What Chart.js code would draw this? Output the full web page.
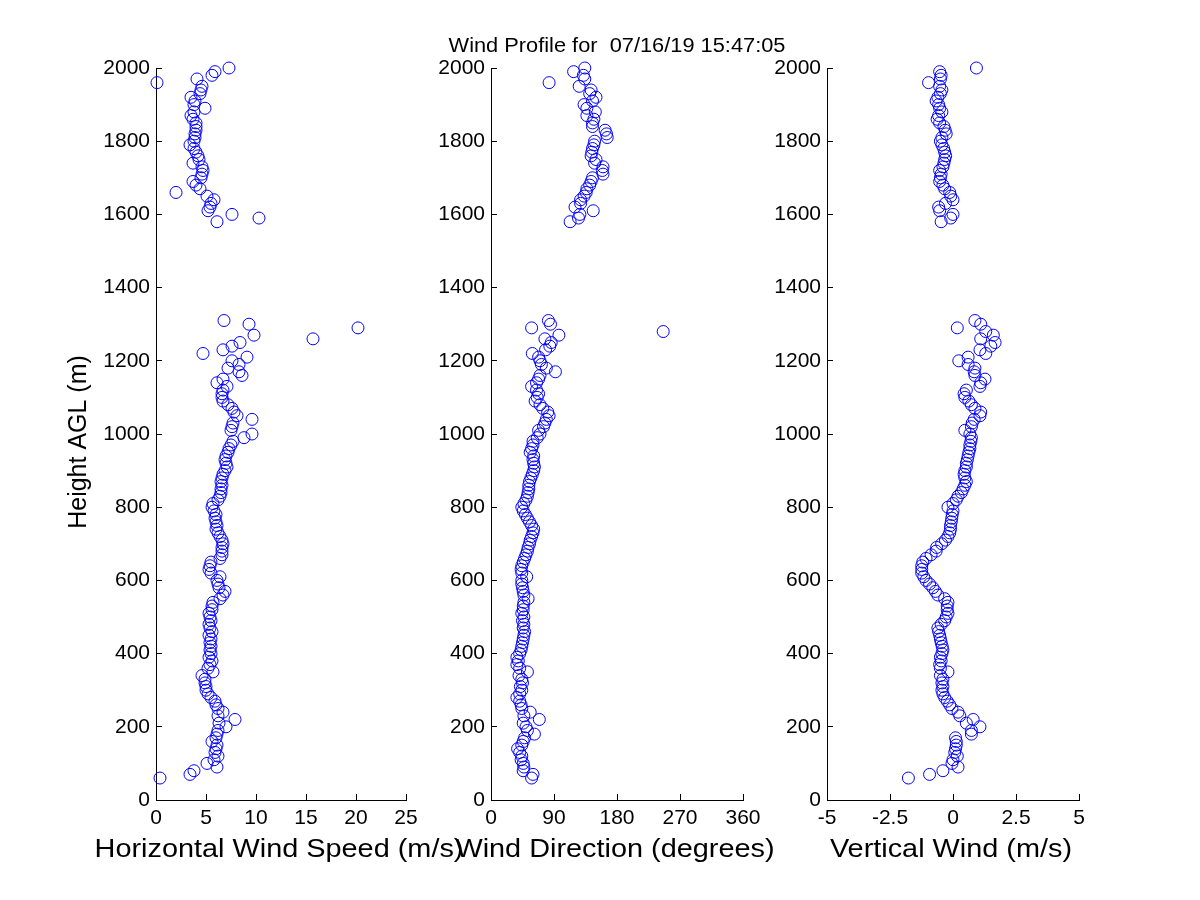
<!DOCTYPE html>
<html>
<head>
<meta charset="utf-8">
<title>Wind Profile</title>
<script src="https://cdn.jsdelivr.net/npm/chart.js@4.4.1/dist/chart.umd.min.js"></script>
<style>
	html, body { margin: 0; padding: 0; background: #fff; }
	#wrap { position: relative; width: 1200px; height: 900px; }
	#wrap canvas { position: absolute; left: 0; top: 0; }
</style>
</head>
<body>
<div id="wrap">
	<canvas id="speedChart" width="1200" height="900"></canvas>
	<canvas id="dirChart" width="1200" height="900"></canvas>
	<canvas id="vertChart" width="1200" height="900"></canvas>
</div>
<script>
// range gates (m AGL), two blocks: low mode and high mode
const heights = [
	60, 70, 80, 90, 100, 110, 120, 130, 140, 150, 160, 170, 180, 190, 200, 210, 220, 230, 240, 250,
	260, 270, 280, 290, 300, 310, 320, 330, 340, 350, 360, 370, 380, 390, 400, 410, 420, 430, 440, 450,
	460, 470, 480, 490, 500, 510, 520, 530, 540, 550, 560, 570, 580, 590, 600, 610, 620, 630, 640, 650,
	660, 670, 680, 690, 700, 710, 720, 730, 740, 750, 760, 770, 780, 790, 800, 810, 820, 830, 840, 850,
	860, 870, 880, 890, 900, 910, 920, 930, 940, 950, 960, 970, 980, 990, 1000, 1010, 1020, 1030, 1040, 1050,
	1060, 1070, 1080, 1090, 1100, 1110, 1120, 1130, 1140, 1150, 1160, 1170, 1180, 1190, 1200, 1210, 1220, 1230, 1240, 1250,
	1260, 1270, 1280, 1290, 1300, 1310,
	1580, 1590, 1600, 1610, 1620, 1630, 1640, 1650, 1660, 1670, 1680, 1690, 1700, 1710, 1720, 1730, 1740, 1750, 1760, 1770,
	1780, 1790, 1800, 1810, 1820, 1830, 1840, 1850, 1860, 1870, 1880, 1890, 1900, 1910, 1920, 1930, 1940, 1950, 1960, 1970,
	1980, 1990, 2000,
];

// horizontal wind speed (m/s), null = no retrieval
const speed = [
	0.4, 3.4, 3.8, 6.1, 5.1, 5.8, 6.2, 5.9, 6.0, 6.1, 5.6, 6.0, 6.1, 6.2, 7.0, 6.3, 7.9, 6.2, 6.7, 6.2,
	6.0, 5.9, 5.5, 5.2, 5.0, 5.0, 4.9, 4.9, 4.6, 5.7, 5.2, 5.4, 5.6, 5.3, 5.5, 5.4, 5.5, 5.4, 5.5, 5.3,
	5.6, 5.4, 5.3, 5.5, 5.4, 5.3, 5.6, 5.6, 5.7, 6.4, 6.7, 6.9, 6.3, 6.2, 6.1, 6.4, 5.5, 5.3, 5.4, 5.5,
	6.4, 6.6, 6.6, 6.6, 6.7, 6.6, 6.4, 6.2, 6.0, 6.1, 6.0, 5.9, 6.0, 5.8, 5.6, 5.7, 6.2, 6.4, 6.5, 6.5,
	6.6, 6.5, 6.6, 6.7, 6.9, 7.1, 7.0, 6.9, 7.0, 7.2, 7.3, 7.5, 7.7, 8.8, 9.6, 7.5, 7.6, 7.7, 9.6, 8.1,
	7.8, 7.6, 7.2, 6.7, 6.6, 6.6, 6.7, 7.1, 6.1, 6.7, 8.6, 8.3, 7.2, 8.3, 7.6, 9.1, 4.7, 6.7, 7.6, 8.4,
	15.7, 9.8, null, 20.2, 9.3, 6.8,
	6.1, 10.3, 7.6, 5.2, 5.4, 5.5, 5.8, 5.1, 2.0, 4.4, 4.0, 3.7, 4.5, 4.6, 4.7, 4.6, 3.7, 4.3, 4.2, 4.0,
	3.8, 3.4, 3.8, 3.9, 3.9, 4.0, 4.0, 4.0, 3.7, 3.5, 3.8, 4.9, 3.8, 3.9, 3.5, 4.4, 4.5, 4.6, 0.1, 4.1,
	5.6, 5.9, 7.3,
];

// wind direction (degrees)
const direction = [
	58, 60, 46, 47, 46, 43, 44, 41, 38, 44, 46, 48, 62, 52, 50, 46, 69, 47, 56, 44,
	43, 41, 37, 41, 44, 42, 45, 44, 40, 52, 41, 37, 39, 37, 41, 43, 44, 45, 46, 47,
	48, 46, 47, 45, 47, 44, 46, 46, 47, 53, 47, 46, 45, 44, 44, 51, 44, 43, 44, 46,
	48, 50, 52, 53, 55, 56, 58, 60, 61, 58, 55, 52, 49, 46, 44, 47, 50, 52, 53, 54,
	54, 55, 57, 59, 61, 62, 61, 60, 61, 56, 58, 60, 60, 66, 70, 68, 75, 77, 79, 83,
	81, 74, 70, 63, 66, 68, 65, 58, 65, 68, 70, 92, 79, 72, 70, 68, 59, 78, 84, 86,
	77, 97, 246, 58, 85, 82,
	113, 125, 127, 146, 120, 128, 128, 133, 136, 137, 141, 143, 145, 160, 159, 160, 148, 150, 143, 144,
	145, 147, 148, 166, 165, 163, 145, 145, 147, 137, 149, 137, 133, 145, 150, 141, 143, 126, 83, 134,
	132, 118, 134,
];

// vertical wind (m/s)
const vertical = [
	-1.77, -0.93, -0.4, 0.2, -0.04, 0.0, 0.17, 0.07, 0.1, 0.13, 0.13, 0.1, 0.73, 0.73, 1.07, 0.53, 0.8, 0.27, 0.2, -0.04,
	-0.13, -0.23, -0.33, -0.4, -0.44, -0.4, -0.44, -0.4, -0.5, -0.2, -0.5, -0.53, -0.47, -0.5, -0.44, -0.4, -0.43, -0.47, -0.5, -0.53,
	-0.57, -0.6, -0.47, -0.33, -0.27, -0.2, -0.23, -0.23, -0.2, -0.33, -0.6, -0.7, -0.8, -0.93, -1.07, -1.16, -1.24, -1.24, -1.24, -1.2,
	-1.07, -0.87, -0.67, -0.65, -0.45, -0.3, -0.2, -0.13, -0.1, -0.1, -0.07, -0.05, -0.03, 0.0, -0.2, 0.0, 0.13, 0.2, 0.33, 0.4,
	0.47, 0.53, 0.47, 0.44, 0.47, 0.53, 0.53, 0.57, 0.6, 0.63, 0.67, 0.67, 0.71, 0.73, 0.67, 0.47, 0.73, 0.76, 0.84, 1.07,
	1.1, 0.87, 0.73, 0.63, 0.47, 0.44, 0.53, 1.07, 1.1, 1.27, 0.87, 0.84, 0.87, 0.6, 0.23, 0.6, 1.3, 1.07, 1.5, 1.67,
	1.1, 1.6, 1.3, 0.17, 1.1, 0.87,
	-0.47, -0.09, 0.0, -0.53, -0.57, -0.3, 0.0, -0.09, -0.13, -0.33, -0.4, -0.53, -0.5, -0.47, -0.53, -0.4, -0.36, -0.33, -0.29, -0.33,
	-0.37, -0.44, -0.5, -0.44, -0.27, -0.31, -0.36, -0.53, -0.63, -0.57, -0.44, -0.53, -0.57, -0.67, -0.6, -0.5, -0.44, -0.53, -0.97, -0.5,
	-0.47, -0.53, 0.93,
];

// tick labels
const heightTicks = [0, 200, 400, 600, 800, 1000, 1200, 1400, 1600, 1800, 2000];
const speedTicks = [0, 5, 10, 15, 20, 25];
const dirTicks = [0, 90, 180, 270, 360];
const vertTicks = [-5, -2.5, 0, 2.5, 5];

const figTitle = 'Wind Profile for  07/16/19 15:47:05';

const FONT = "'Liberation Sans', Arial, sans-serif";
const BLUE = '#0000ff';

function points(values) {
	return heights.map((h, i) => ({ x: values[i], y: h })).filter((p) => p.x !== null);
}

function fixTicks(list) {
	return (scale) => {
		scale.ticks = list.map((v) => ({ value: v }));
	};
}

// centred text, stretched sideways a bit (the original figure's font runs wider)
function wideText(ctx, str, x, y, stretch) {
	ctx.save();
	ctx.translate(x, y);
	ctx.scale(stretch, 1);
	ctx.fillText(str, 0, 0);
	ctx.restore();
}

// axis labels and figure title, drawn without chart.js squeezing them into the plot width
const panelText = {
	id: 'panelText',
	afterDraw(chart, args, o) {
		const { ctx, chartArea } = chart;
		const cx = (chartArea.left + chartArea.right) / 2;
		ctx.save();
		ctx.fillStyle = '#000';
		ctx.textAlign = 'center';
		ctx.textBaseline = 'alphabetic';
		if (o.xTitle) {
			ctx.font = `26px ${FONT}`;
			wideText(ctx, o.xTitle, cx - 2, chartArea.bottom + 57, 1.11);
		}
		if (o.title) {
			ctx.font = `20px ${FONT}`;
			wideText(ctx, o.title, cx, chartArea.top - 16, 1.09);
		}
		if (o.yTitle) {
			ctx.font = `25px ${FONT}`;
			ctx.translate(chartArea.left - 70, 442);
			ctx.rotate(-Math.PI / 2);
			ctx.fillText(o.yTitle, 0, 0);
		}
		ctx.restore();
	},
};

// one axes per canvas; the canvases are stacked and the plot areas are placed with layout padding
function makePanel(id, values, xTicks, xMin, xMax, pad, yAxisWidth, text) {
	const ctx = document.getElementById(id).getContext('2d');
	return new Chart(ctx, {
		type: 'scatter',
		data: {
			datasets: [
				{
					data: points(values),
					pointStyle: 'circle',
					pointRadius: 6,
					pointHoverRadius: 6,
					pointBorderWidth: 1,
					borderColor: BLUE,
					backgroundColor: 'rgba(0,0,0,0)',
					clip: false,
				},
			],
		},
		plugins: [panelText],
		options: {
			responsive: false,
			animation: false,
			events: [],
			layout: { padding: pad },
			plugins: {
				legend: { display: false },
				tooltip: { enabled: false },
				title: { display: false },
				panelText: text,
			},
			scales: {
				x: {
					type: 'linear',
					min: xMin,
					max: xMax,
					afterBuildTicks: fixTicks(xTicks),
					afterFit: (s) => { s.height = 100; },
					border: { display: true, color: '#000', width: 1 },
					grid: { display: true, drawOnChartArea: false, drawTicks: true, tickLength: -6, color: '#000' },
					ticks: {
						color: '#000',
						padding: 12,
						maxRotation: 0,
						font: { family: FONT, size: 21 },
						callback: (v) => String(v),
					},
				},
				y: {
					type: 'linear',
					min: 0,
					max: 2000,
					afterBuildTicks: fixTicks(heightTicks),
					afterFit: (s) => { s.width = yAxisWidth; },
					border: { display: true, color: '#000', width: 1 },
					grid: { display: true, drawOnChartArea: false, drawTicks: true, tickLength: -6, color: '#000' },
					ticks: {
						color: '#000',
						padding: 12,
						font: { family: FONT, size: 21 },
						callback: (v) => String(v),
					},
				},
			},
		},
	});
}

// plot areas: x 156-406, 491-743, 827-1079; y 68-800
makePanel('speedChart', speed, speedTicks, 0, 25,
	{ left: 0, top: 68, right: 794, bottom: 0 }, 156,
	{ xTitle: 'Horizontal Wind Speed (m/s)', yTitle: 'Height AGL (m)' });

makePanel('dirChart', direction, dirTicks, 0, 360,
	{ left: 431, top: 68, right: 457, bottom: 0 }, 60,
	{ xTitle: 'Wind Direction (degrees)', title: figTitle });

makePanel('vertChart', vertical, vertTicks, -5, 5,
	{ left: 767, top: 68, right: 121, bottom: 0 }, 60,
	{ xTitle: 'Vertical Wind (m/s)' });
</script>
</body>
</html>
